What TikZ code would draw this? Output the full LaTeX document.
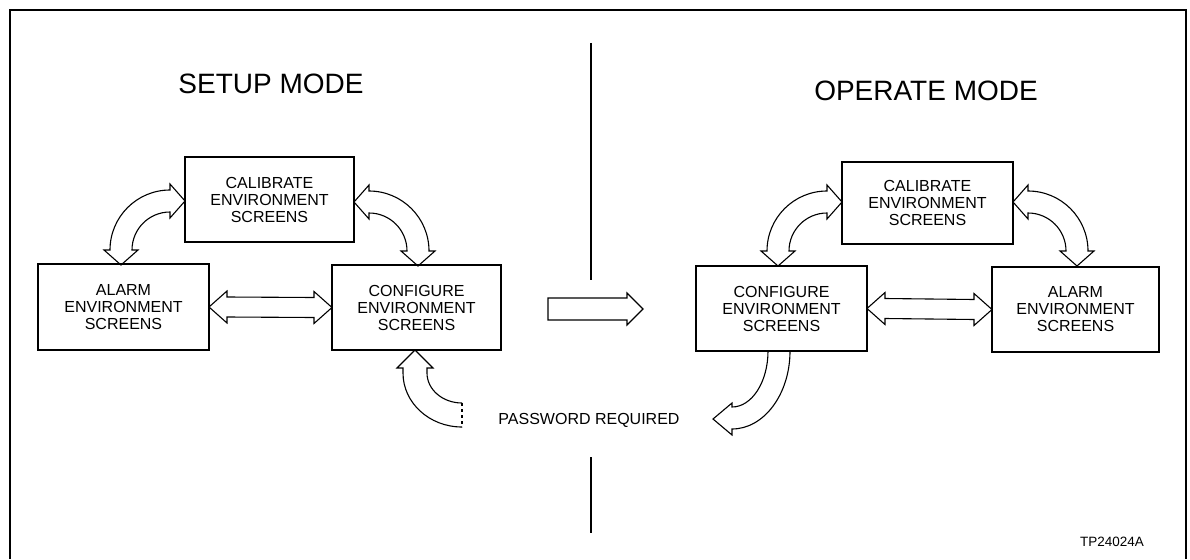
\documentclass[tikz,border=0pt]{standalone}
\usepackage{fontspec}
\setmainfont{Liberation Sans}
\usetikzlibrary{calc}
\tikzset{
  box/.style={draw, line width=1.2pt, align=center, inner sep=0pt, outer sep=0pt,
    font=\fontsize{16}{17}\selectfont},
  titletext/.style={inner sep=0pt, font=\fontsize{28}{30}\selectfont},
  plaintext/.style={inner sep=0pt, text depth=0pt, font=\fontsize{16}{17}\selectfont},
  arrowline/.style={draw, line width=1.1pt, line join=miter},
  frameline/.style={line width=2pt},
}
\newcommand{\curvedblock}[4]{%
  \pgfmathsetmacro{\myS}{sign(#4-#3)}%
  \pgfmathsetmacro{\myPA}{#3-90*\myS}%
  \pgfmathsetmacro{\myPB}{#4+90*\myS}%
  \draw[arrowline] ($(#1,#2)+(#3:60)$) arc[start angle=#3,end angle=#4,radius=60]
    -- ($(#1,#2)+(#4:66)$) -- ($(#1,#2)+(#4:49)+(\myPB:15)$) -- ($(#1,#2)+(#4:32)$)
    -- ($(#1,#2)+(#4:38)$) arc[start angle=#4,end angle=#3,radius=38]
    -- ($(#1,#2)+(#3:32)$) -- ($(#1,#2)+(#3:49)+(\myPA:15)$) -- ($(#1,#2)+(#3:66)$) -- cycle;
}
\begin{document}
\begin{tikzpicture}[x=1pt,y=-1pt]
\useasboundingbox (0,0) rectangle (1190,559);
% frame and divider
\draw[frameline] (10,559) -- (10,10) -- (1186,10) -- (1186,559);
\draw[frameline] (591,43) -- (591,280);
\draw[frameline] (591,457) -- (591,533);
% titles
\node[titletext] (setup) at (271,84) {SETUP MODE};
\node[titletext] (operate) at (926,91) {OPERATE MODE};
% setup boxes
\node[box, minimum width=169pt, minimum height=85pt] (calL) at (269.5,199.5) {CALIBRATE\\ENVIRONMENT\\SCREENS};
\node[box, minimum width=171pt, minimum height=86pt] (alarmL) at (123.5,307) {ALARM\\ENVIRONMENT\\SCREENS};
\node[box, minimum width=169pt, minimum height=85pt] (confL) at (416.5,307.5) {CONFIGURE\\ENVIRONMENT\\SCREENS};
% operate boxes
\node[box, minimum width=171pt, minimum height=82pt] (calR) at (927.5,203) {CALIBRATE\\ENVIRONMENT\\SCREENS};
\node[box, minimum width=171pt, minimum height=85pt] (confR) at (781.5,308.5) {CONFIGURE\\ENVIRONMENT\\SCREENS};
\node[box, minimum width=167pt, minimum height=85pt] (alarmR) at (1075.5,309.5) {ALARM\\ENVIRONMENT\\SCREENS};
% straight double arrows
\draw[arrowline] (alarmL.east) -- ++(18,-16) -- ++(0,6) -- ($(confL.west)+(-18,-10)$) -- ++(0,-6)
  -- (confL.west) -- ++(-18,16) -- ++(0,-6) -- ($(alarmL.east)+(18,10)$) -- ++(0,6) -- cycle;
\draw[arrowline] (confR.east) -- ++(18,-16) -- ++(0,6) -- ($(alarmR.west)+(-18,-10)$) -- ++(0,-6)
  -- (alarmR.west) -- ++(-18,16) -- ++(0,-6) -- ($(confR.east)+(18,10)$) -- ++(0,6) -- cycle;
% curved double arrows
\curvedblock{170}{250}{180}{270}
\curvedblock{369}{251}{0}{-90}
\curvedblock{827}{251}{180}{270}
\curvedblock{1028}{251}{0}{-90}
% mode change arrow
\draw[arrowline] (548,298) -- (627,298) -- (627,293) -- (643,309) -- (627,325) -- (627,320) -- (548,320) -- cycle;
% password arrows
\node[plaintext] (pw) at (589,419) {PASSWORD REQUIRED};
\draw[arrowline] (462,427) arc[start angle=90,end angle=180,x radius=59,y radius=54]
  -- (403,368) -- (397,368) -- (415,350) -- (433,368) -- (427,368) -- (427,373)
  arc[start angle=180,end angle=90,x radius=35,y radius=30];
\draw[line width=1.1pt, dashed] (462,403) -- (462,427);
\draw[arrowline] (790,351) arc[start angle=0,end angle=90,x radius=58,y radius=78]
  -- (732,435) -- (713,419) -- (732,403) -- (732,407)
  arc[start angle=90,end angle=0,x radius=36,y radius=56];
% figure id
\node[inner sep=0pt, font=\fontsize{13.5}{14}\selectfont] (tp) at (1112,542) {TP24024A};
\end{tikzpicture}
\end{document}
